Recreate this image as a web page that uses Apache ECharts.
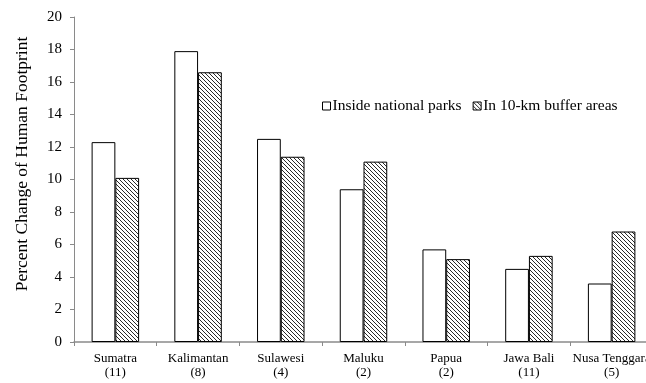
<!DOCTYPE html>
<html>
<head>
<meta charset="utf-8">
<script src="https://cdn.jsdelivr.net/npm/echarts@6/dist/echarts.min.js"></script>
<style>
    html, body { margin: 0; padding: 0; overflow: hidden; background: #fff; }
    .wrap { width: 646px; height: 383px; overflow: hidden; }
    #chart { width: 660px; height: 383px; }
</style>
</head>
<body>
<div class="wrap"><div id="chart"></div></div>
<script>
// 数据
var categories = ['Sumatra\n(11)', 'Kalimantan\n(8)', 'Sulawesi\n(4)', 'Maluku\n(2)', 'Papua\n(2)', 'Jawa Bali\n(11)', 'Nusa Tenggara\n(5)'];
var insideParks = [12.3, 17.9, 12.5, 9.4, 5.7, 4.5, 3.6];
var bufferAreas = [10.1, 16.6, 11.4, 11.1, 5.1, 5.3, 6.8];
var yTicks = { min: 0, max: 20, interval: 2 };

var serif = '"Liberation Serif", "DejaVu Serif", serif';

// 斜线填充
function hatchPattern() {
    var c = document.createElement('canvas');
    c.width = 4;
    c.height = 4;
    var ctx = c.getContext('2d');
    ctx.fillStyle = '#fff';
    ctx.fillRect(0, 0, 4, 4);
    ctx.strokeStyle = '#2a2a2a';
    ctx.lineWidth = 1;
    ctx.beginPath();
    ctx.moveTo(-1, -1); ctx.lineTo(5, 5);
    ctx.moveTo(-1, 3); ctx.lineTo(1, 5);
    ctx.moveTo(3, -1); ctx.lineTo(5, 1);
    ctx.stroke();
    return c;
}

var myChart = echarts.init(document.getElementById('chart'));

var option = {
    animation: false,
    textStyle: { fontFamily: serif },
    legend: {
        left: 317,
        top: 93,
        icon: 'rect',
        itemWidth: 8,
        itemHeight: 8,
        itemGap: 11,
        itemStyle: { borderWidth: 1 },
        textStyle: { fontFamily: serif, fontSize: 15.5, color: '#000', padding: [0, 0, 0, -3] },
        data: ['Inside national parks', 'In 10-km buffer areas']
    },
    grid: {
        left: 74,
        right: 7,
        top: 17,
        bottom: 41
    },
    xAxis: {
        type: 'category',
        data: categories,
        axisLine: { lineStyle: { color: '#8a8a8a', width: 1.5 } },
        axisTick: { show: true, length: 4, lineStyle: { color: '#8a8a8a' } },
        axisLabel: {
            fontFamily: serif,
            fontSize: 13,
            color: '#000',
            lineHeight: 14,
            margin: 10,
            interval: 0
        }
    },
    yAxis: {
        type: 'value',
        min: yTicks.min,
        max: yTicks.max,
        interval: yTicks.interval,
        splitLine: { show: false },
        axisLine: { show: true, lineStyle: { color: '#8a8a8a', width: 1 } },
        axisTick: { show: true, length: 4, lineStyle: { color: '#8a8a8a' } },
        axisLabel: { fontFamily: serif, fontSize: 15, color: '#000', margin: 12 }
    },
    graphic: [{
        type: 'text',
        x: 22,
        y: 164,
        rotation: Math.PI / 2,
        style: {
            text: 'Percent Change of Human Footprint',
            fontFamily: serif,
            fontSize: 17.5,
            fill: '#000',
            align: 'center',
            verticalAlign: 'middle'
        }
    }],
    series: [
        {
            name: 'Inside national parks',
            type: 'bar',
            barWidth: '28.7%',
            barGap: '0%',
            data: insideParks,
            itemStyle: { color: '#fff', borderColor: '#000', borderWidth: 1 }
        },
        {
            name: 'In 10-km buffer areas',
            type: 'bar',
            barWidth: '28.7%',
            data: bufferAreas,
            itemStyle: {
                color: { image: hatchPattern(), repeat: 'repeat' },
                borderColor: '#000',
                borderWidth: 1
            }
        }
    ]
};

myChart.setOption(option);
</script>
</body>
</html>
